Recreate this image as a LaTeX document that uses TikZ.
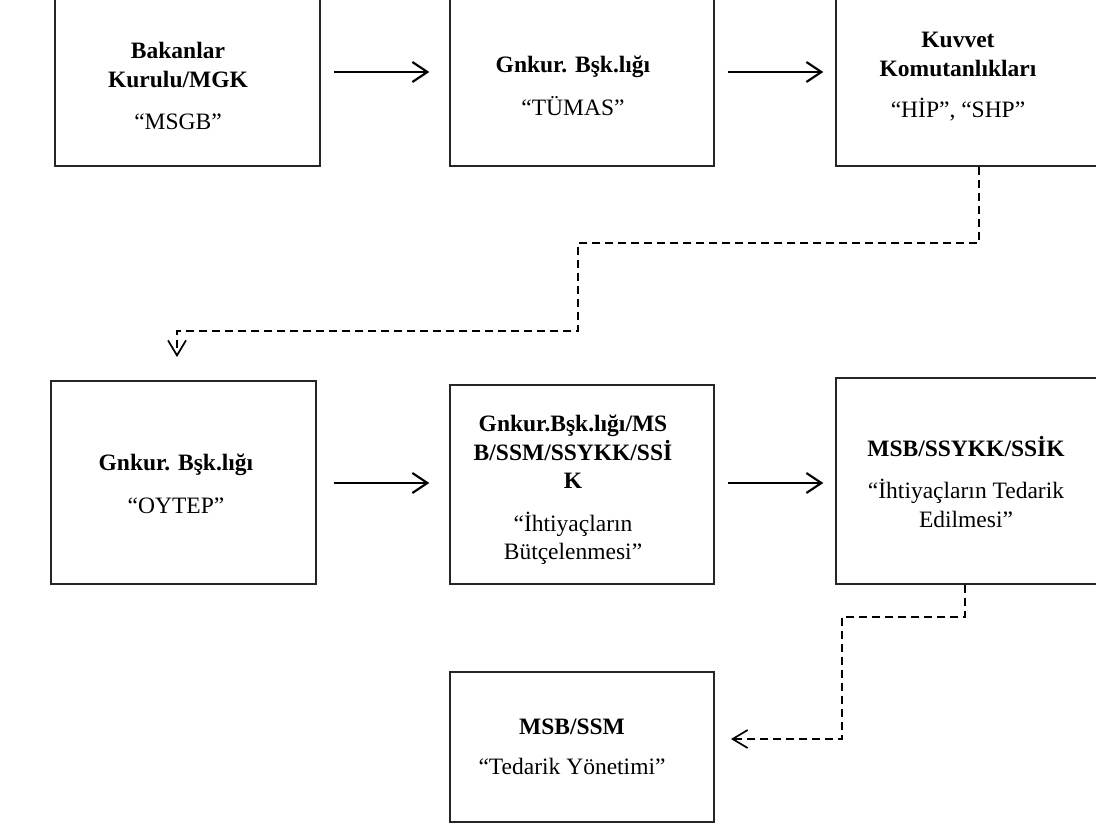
\documentclass[tikz,border=0pt]{standalone}
\usepackage{fontspec}
\setmainfont{Liberation Serif}
\usetikzlibrary{arrows.meta}
\begin{document}
\begin{tikzpicture}[x=1pt,y=-1pt,
  box/.style={draw=black!85,line width=1.3pt,inner sep=0pt},
  lbl/.style={align=center,font=\fontsize{23.5}{28.5}\selectfont,inner sep=0pt},
  arr/.style={line width=2.2pt,-{Straight Barb[length=15pt,width=20pt]}},
  dsh/.style={line width=1.7pt,dash pattern=on 8pt off 5pt,-{Straight Barb[length=15pt,width=18pt]}}]
\useasboundingbox (0,0) rectangle (1096,827);
\clip (0,0) rectangle (1096,827);
% boxes
\node[box,minimum width=265pt,minimum height=200pt] (b1) at (187.5,66) {};
\node[box,minimum width=264pt,minimum height=200pt] (b2) at (582,66) {};
\node[box,minimum width=265pt,minimum height=200pt] (b3) at (968.5,66) {};
\node[box,minimum width=265pt,minimum height=203pt] (b4) at (183.5,482.5) {};
\node[box,minimum width=264pt,minimum height=199pt] (b5) at (582,484.5) {};
\node[box,minimum width=265pt,minimum height=206pt] (b6) at (968.5,481) {};
\node[box,minimum width=264pt,minimum height=150pt] (b7) at (582,747) {};
% texts
\node[lbl] (t1) at (178,86) {\textbf{Bakanlar}\\\textbf{Kurulu/MGK}\\[14pt]“MSGB”};
\node[lbl] (t2) at (573,86) {\textbf{Gnkur. Bşk.lığı}\\[14pt]“TÜMAS”};
\node[lbl] (t3) at (958,77) {\textbf{Kuvvet}\\\textbf{Komutanlıkları}\\[13pt]“HİP”, “SHP”};
\node[lbl] (t4) at (176,484) {\textbf{Gnkur. Bşk.lığı}\\[14pt]“OYTEP”};
\node[lbl] (t5) at (573,490) {\textbf{Gnkur.Bşk.lığı/MS}\\\textbf{B/SSM/SSYKK/SSİ}\\\textbf{K}\\[14pt]“İhtiyaçların\\Bütçelenmesi”};
\node[lbl] (t6) at (966,482) {\textbf{MSB/SSYKK/SSİK}\\[14pt]“İhtiyaçların Tedarik\\Edilmesi”};
\node[lbl] (t7) at (572,747) {\textbf{MSB/SSM}\\[11pt]“Tedarik Yönetimi”};
% solid arrows
\coordinate (r1) at (0,72);
\coordinate (r2) at (0,483);
\draw[arr,shorten <=13pt,shorten >=20pt] (b1.east |- r1) -- (b2.west |- r1);
\draw[arr,shorten <=13pt,shorten >=12pt] (b2.east |- r1) -- (b3.west |- r1);
\draw[arr,shorten <=17pt,shorten >=20pt] (b4.east |- r2) -- (b5.west |- r2);
\draw[arr,shorten <=13pt,shorten >=12pt] (b5.east |- r2) -- (b6.west |- r2);
% dashed connectors
\coordinate (k1) at (979,243);
\coordinate (k2) at (578,331);
\coordinate (e1) at (177,357);
\draw[dsh] (b3.south -| k1) -- (k1) -- (k2 |- k1) -- (k2) -- (e1 |- k2) -- (e1);
\coordinate (k3) at (965,617);
\coordinate (k4) at (842,739);
\coordinate (e2) at (731,739);
\draw[dsh] (b6.south -| k3) -- (k3) -- (k4 |- k3) -- (k4) -- (e2);
\end{tikzpicture}
\end{document}
